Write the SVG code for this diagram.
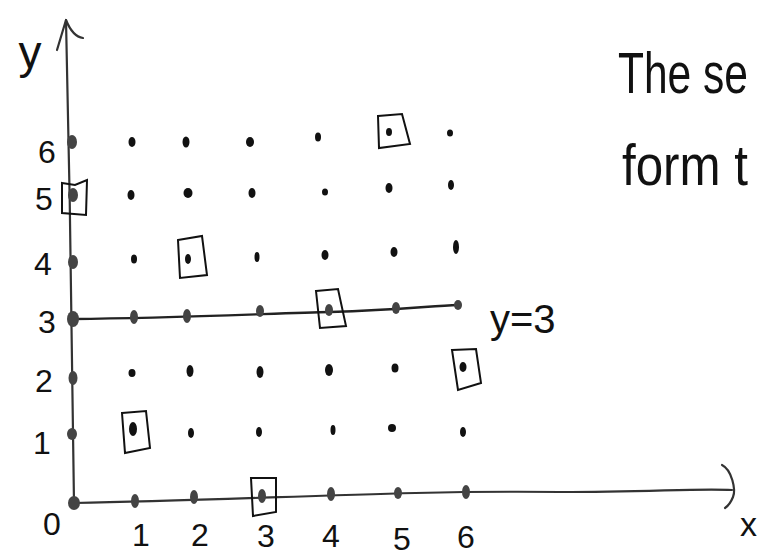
<svg xmlns="http://www.w3.org/2000/svg" width="765" height="556" viewBox="0 0 765 556">
<style>
.ax{fill:none;stroke:#333;stroke-width:2.2;stroke-linecap:round;stroke-linejoin:round}
.ln{fill:none;stroke:#222;stroke-width:2.4;stroke-linecap:round}
.d{fill:#111}
.ad{fill:#444}
.bx{fill:none;stroke:#111;stroke-width:2}
.t{font-family:"Liberation Sans","DejaVu Sans",sans-serif;fill:#111;font-weight:normal}
.n{font-size:32px;text-anchor:middle}
</style>
<rect width="765" height="556" fill="#fff"/>
<g id="connectors">
<path class="ax" d="M74,503 C72,350 70,180 66,20"/>
<path class="ax" d="M57,50 L66,20 C70,30 76,37 83,38"/>
<path class="ax" d="M74,503 C250,500 400,490 560,492 C650,492 700,488 732,490"/>
<path class="ax" d="M722,465 C732,470 736,490 733,497 C731,502 728,506 725,508"/>
<path class="ln" d="M73,319 C180,318 280,313 330,312 C400,310 430,306 458,305"/>
</g>
<g id="axis-points">
<ellipse class="ad" cx="72" cy="142" rx="5" ry="7"/>
<ellipse class="ad" cx="73" cy="195" rx="5" ry="7"/>
<ellipse class="ad" cx="73" cy="262" rx="5" ry="7"/>
<ellipse class="ad" cx="73" cy="319" rx="6" ry="8"/>
<ellipse class="ad" cx="73" cy="378" rx="4.5" ry="7"/>
<ellipse class="ad" cx="72" cy="434" rx="5" ry="6"/>
<ellipse class="ad" cx="74" cy="503" rx="6" ry="7"/>
<ellipse class="ad" cx="135" cy="501" rx="4" ry="7"/>
<ellipse class="ad" cx="194" cy="497" rx="4" ry="7"/>
<ellipse class="ad" cx="262" cy="496" rx="4" ry="7"/>
<ellipse class="ad" cx="331" cy="494" rx="4" ry="7"/>
<ellipse class="ad" cx="398" cy="493" rx="4" ry="6"/>
<ellipse class="ad" cx="466" cy="492" rx="4" ry="7"/>
<ellipse class="ad" cx="134" cy="317" rx="4" ry="7"/>
<ellipse class="ad" cx="187" cy="316" rx="4" ry="7"/>
<ellipse class="ad" cx="260" cy="311" rx="4" ry="6"/>
<ellipse class="ad" cx="329" cy="310" rx="4" ry="6"/>
<ellipse class="ad" cx="396" cy="308" rx="4" ry="6"/>
<ellipse class="ad" cx="458" cy="305" rx="4" ry="5"/>
</g>
<g id="grid-points">
<ellipse class="d" cx="132" cy="142" rx="3.5" ry="5"/>
<ellipse class="d" cx="186" cy="142" rx="3.5" ry="5.5"/>
<ellipse class="d" cx="250" cy="142" rx="4" ry="5"/>
<ellipse class="d" cx="318" cy="137" rx="3" ry="4.5"/>
<ellipse class="d" cx="389" cy="132" rx="3" ry="4"/>
<ellipse class="d" cx="450" cy="133" rx="3" ry="3.5"/>
<ellipse class="d" cx="131" cy="195" rx="3.5" ry="5"/>
<ellipse class="d" cx="188" cy="193" rx="4.5" ry="5"/>
<ellipse class="d" cx="252" cy="193" rx="3.5" ry="5"/>
<ellipse class="d" cx="325" cy="192" rx="3" ry="3.5"/>
<ellipse class="d" cx="389" cy="188" rx="3.5" ry="5"/>
<ellipse class="d" cx="451" cy="185" rx="3" ry="5"/>
<ellipse class="d" cx="134" cy="259" rx="3" ry="4.5"/>
<ellipse class="d" cx="188" cy="259" rx="3" ry="5"/>
<ellipse class="d" cx="257" cy="257" rx="2.5" ry="5"/>
<ellipse class="d" cx="325" cy="255" rx="3.5" ry="5"/>
<ellipse class="d" cx="394" cy="252" rx="3.5" ry="5"/>
<ellipse class="d" cx="456" cy="247" rx="3" ry="7"/>
<ellipse class="d" cx="132" cy="373" rx="3.5" ry="4"/>
<ellipse class="d" cx="190" cy="371" rx="3.5" ry="6"/>
<ellipse class="d" cx="260" cy="372" rx="3.5" ry="6"/>
<ellipse class="d" cx="329" cy="370" rx="4" ry="6"/>
<ellipse class="d" cx="395" cy="368" rx="3.5" ry="4.5"/>
<ellipse class="d" cx="463" cy="367" rx="3.5" ry="5"/>
<ellipse class="d" cx="133" cy="429" rx="4" ry="7"/>
<ellipse class="d" cx="191" cy="433" rx="3" ry="5"/>
<ellipse class="d" cx="259" cy="432" rx="3" ry="5"/>
<ellipse class="d" cx="333" cy="430" rx="2.5" ry="5"/>
<ellipse class="d" cx="392" cy="428" rx="4" ry="4"/>
<ellipse class="d" cx="463" cy="432" rx="3" ry="5"/>
</g>
<g id="highlight-boxes">
<path class="bx" d="M378,116 L402,114 L410,144 L379,148 Z"/>
<path class="bx" d="M62,183 L75,185 L87,180 L86,215 L62,213 Z"/>
<path class="bx" d="M178,240 L202,236 L207,275 L180,278 Z"/>
<path class="bx" d="M316,291 L338,289 L346,326 L320,328 Z"/>
<path class="bx" d="M452,350 L476,349 L481,383 L458,390 Z"/>
<path class="bx" d="M122,413 L146,411 L150,448 L125,453 Z"/>
<path class="bx" d="M251,478 L276,478 L276,512 L253,516 Z"/>
</g>
<g id="labels">
<text class="t" x="30" y="68" font-size="46" text-anchor="middle">y</text>
<text class="t n" x="47" y="163">6</text>
<text class="t n" x="44" y="210">5</text>
<text class="t n" x="43" y="275">4</text>
<text class="t n" x="47" y="333">3</text>
<text class="t n" x="44" y="392">2</text>
<text class="t n" x="42" y="454">1</text>
<text class="t n" x="52" y="535">0</text>
<text class="t n" x="141" y="546">1</text>
<text class="t n" x="200" y="546">2</text>
<text class="t n" x="266" y="547">3</text>
<text class="t n" x="331" y="547">4</text>
<text class="t n" x="402" y="550">5</text>
<text class="t n" x="466" y="548">6</text>
<text class="t" x="740" y="536" font-size="34">x</text>
<text class="t" x="490" y="333" font-size="40">y=3</text>
<text class="t" x="618" y="93" font-size="58" textLength="130" lengthAdjust="spacingAndGlyphs">The se</text>
<text class="t" x="622" y="185" font-size="58" textLength="126" lengthAdjust="spacingAndGlyphs">form t</text>
</g>
</svg>
